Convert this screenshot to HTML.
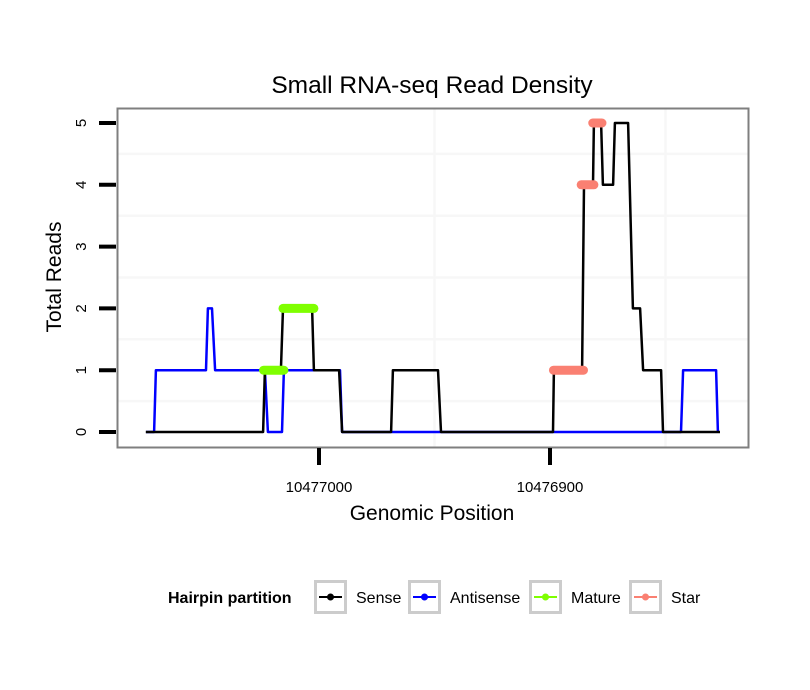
<!DOCTYPE html>
<html><head><meta charset="utf-8"><style>
body{margin:0;background:#fff;}
svg{display:block;font-family:"Liberation Sans",sans-serif;}
</style></head><body>
<svg id="chart" width="810" height="690">
<rect width="810" height="690" fill="#fff"/>
<text x="432" y="93" font-size="24.5" text-anchor="middle">Small RNA-seq Read Density</text>
<g id="grid"></g>
<g id="series"></g>
<rect x="117.5" y="108.5" width="631" height="339" fill="none" stroke="#7f7f7f" stroke-width="2"/>
<g id="axes"></g>
<text x="432" y="520" font-size="21" text-anchor="middle">Genomic Position</text>
<text transform="translate(61,277) rotate(-90)" font-size="21" text-anchor="middle">Total Reads</text>
<g>
<text x="168" y="603" font-size="16" font-weight="bold">Hairpin partition</text>
<g id="legend"></g>
</g>
</svg>
<script>
const yTicks=[0,1,2,3,4,5];
const xTicks=[10477000,10476900];
const xTickLabels=["10477000","10476900"];
const senseX=[75,24.2,23.4,16.5,15.6,3.0,2.2,-8.7,-10,-31.2,-32,-51.5,-52.8,-101.3,-101.7,-113.9,-114.7,-118.6,-119,-122.1,-122.9,-127.3,-128.1,-133.8,-135.9,-139,-140.3,-148.1,-148.9,-173.6];
const senseY=[0,0,1,1,2,2,1,1,0,0,1,1,0,0,1,1,4,4,5,5,4,4,5,5,2,2,1,1,0,0];
const antiX=[74.9,71.4,70.6,48.9,48.1,46.3,45,23.4,22.1,16,15.2,-9.1,-10,-156.7,-157.6,-171.9,-172.7];
const antiY=[0,0,1,1,2,2,1,1,0,0,1,1,0,0,1,1,0];
const matureSegX=[[24,15.2],[15.6,2.2]];
const matureSegY=[1,2];
const starSegX=[[-101.5,-114.5],[-113.5,-119],[-118.5,-122.5]];
const starSegY=[1,4,5];
const BASE=10477000;
const sx=v=>319-(v-BASE)*2.31;
const sxo=o=>sx(BASE+o);
const sy=v=>432-v*61.8;
const NS="http://www.w3.org/2000/svg";
function mk(tag,attrs,parent){const e=document.createElementNS(NS,tag);for(const k in attrs)e.setAttribute(k,attrs[k]);parent.appendChild(e);return e;}
const grid=document.getElementById('grid'),ser=document.getElementById('series'),ax=document.getElementById('axes'),leg=document.getElementById('legend');
for(const v of [0.5,1.5,2.5,3.5,4.5]){const l=mk('line',{x1:118,x2:748,y1:sy(v),y2:sy(v),stroke:'#f7f7f7','stroke-width':2.5},grid);

}
for(const v of [BASE-50,BASE-150]){const l=mk('line',{x1:sx(v),x2:sx(v),y1:109,y2:447,stroke:'#f7f7f7','stroke-width':2.5},grid);

}
function line(xs,ys,color,name){const p=xs.map((x,i)=>sxo(x).toFixed(1)+','+sy(ys[i]).toFixed(1)).join(' ');
const e=mk('polyline',{points:p,fill:'none',stroke:color,'stroke-width':2.5,'stroke-linejoin':'round'},ser);

}
line(antiX,antiY,'#0000ff','antisense-line');
line(senseX,senseY,'#000000','sense-line');
function segs(sxs,sys,color,name){sxs.forEach((s,i)=>{const e=mk('line',{x1:sxo(s[0]),x2:sxo(s[1]),y1:sy(sys[i]),y2:sy(sys[i]),stroke:color,'stroke-width':9,'stroke-linecap':'round'},ser);

});}
segs(matureSegX,matureSegY,'#7fff00','mature-points');
segs(starSegX,starSegY,'#fa8072','star-points');
yTicks.forEach(v=>{const t=mk('line',{x1:99,x2:116,y1:sy(v),y2:sy(v),stroke:'#000','stroke-width':4},ax);


const tx=mk('text',{transform:`translate(86,${sy(v)}) rotate(-90)`,'font-size':15,'text-anchor':'middle'},ax);tx.textContent=v;

});
xTicks.forEach((v,i)=>{const t=mk('line',{x1:sx(v),x2:sx(v),y1:448,y2:465,stroke:'#000','stroke-width':4},ax);


const tx=mk('text',{x:sx(v),y:492,'font-size':15,'text-anchor':'middle'},ax);tx.textContent=xTickLabels[i];

});
const legNames=["Sense","Antisense","Mature","Star"];
const legColors=["#000000","#0000ff","#7fff00","#fa8072"];
const legX=[314,408,529,629];
legNames.forEach((n,i)=>{const g=mk('g',{},leg);


mk('rect',{x:legX[i]+1.5,y:581.5,width:30,height:31,fill:'#fff',stroke:'#cccccc','stroke-width':3},g);
mk('line',{x1:legX[i]+5,x2:legX[i]+28,y1:597,y2:597,stroke:legColors[i],'stroke-width':2},g);
mk('circle',{cx:legX[i]+16.5,cy:597,r:3.5,fill:legColors[i]},g);
const t=mk('text',{x:legX[i]+42,y:603,'font-size':16},g);t.textContent=n;});
</script>
</body></html>
